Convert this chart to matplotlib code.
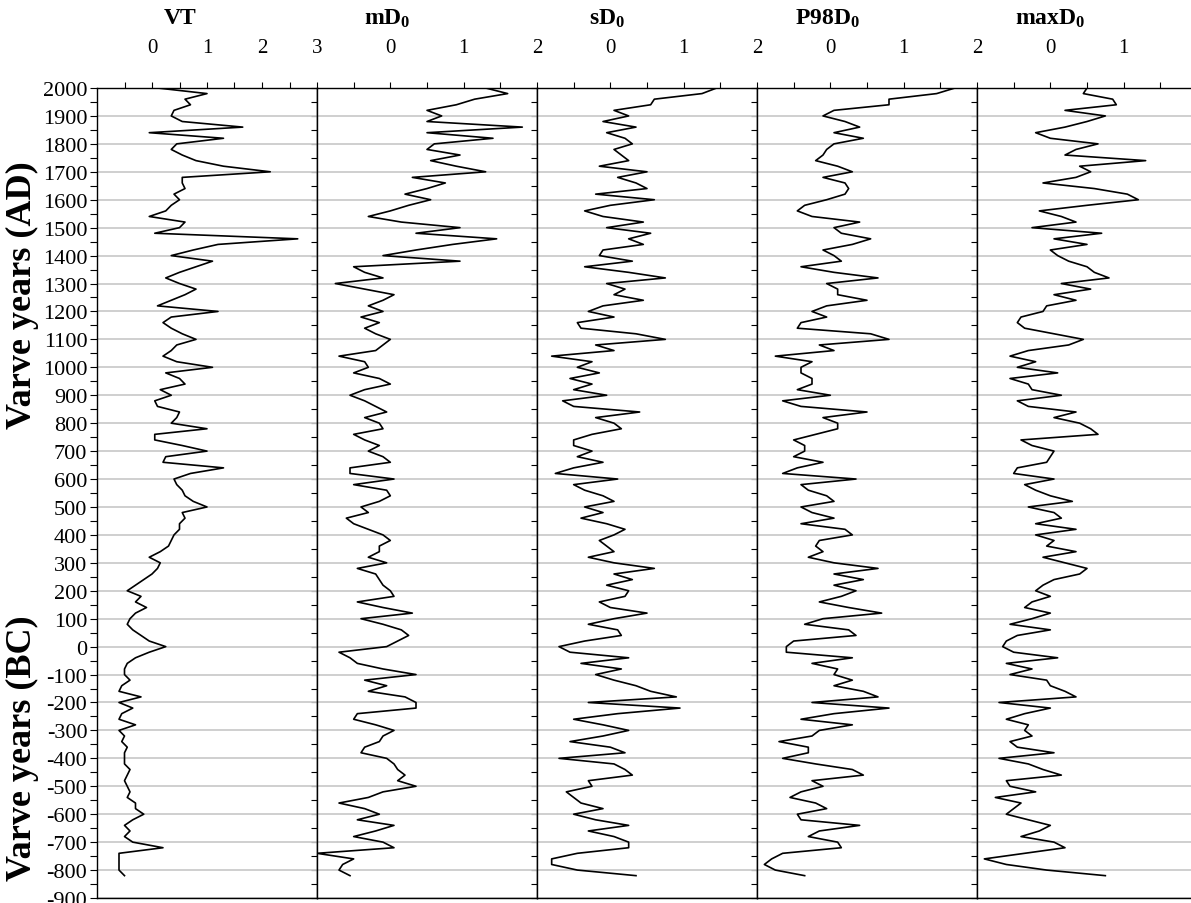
import numpy as np
import matplotlib
matplotlib.use("Agg")
import matplotlib.pyplot as plt
from matplotlib.ticker import MultipleLocator, FixedLocator, FixedFormatter

# --- Fonts (Times-like look of the original figure) ---
plt.rcParams["font.family"] = "Liberation Serif"
plt.rcParams["mathtext.fontset"] = "custom"
plt.rcParams["mathtext.rm"] = "Liberation Serif"
plt.rcParams["mathtext.bf"] = "Liberation Serif:bold"
plt.rcParams["axes.unicode_minus"] = False

# --- Data: values every 20 varve years (2000 AD .. -820) ---
years = np.arange(2000, -821, -20)

vt = [
    0.1, 1.0, 0.6, 0.7, 0.4, 0.35, 0.55, 1.65, -0.05, 1.3,        # 2000..1820
    0.45, 0.35, 0.55, 0.8, 1.3, 2.15, 0.55, 0.55, 0.6, 0.4,        # 1800..1620
    0.5, 0.35, 0.25, -0.05, 0.6, 0.5, 0.05, 2.65, 1.2, 0.75,       # 1600..1420
    0.35, 1.1, 0.8, 0.5, 0.25, 0.5, 0.8, 0.6, 0.35, 0.1,           # 1400..1220
    1.2, 0.35, 0.2, 0.35, 0.55, 0.8, 0.45, 0.35, 0.2, 0.45,        # 1200..1020
    1.1, 0.25, 0.5, 0.6, 0.15, 0.35, 0.05, 0.1, 0.5, 0.45,         # 1000..820
    0.35, 1.0, 0.05, 0.05, 0.55, 1.0, 0.25, 0.2, 1.3, 0.7,         # 800..620
    0.4, 0.45, 0.55, 0.6, 0.75, 1.0, 0.55, 0.6, 0.5, 0.5,          # 600..420
    0.4, 0.35, 0.3, 0.15, -0.05, 0.15, 0.1, 0.0, -0.15, -0.3,      # 400..220
    -0.45, -0.2, -0.3, -0.1, -0.3, -0.4, -0.45, -0.35, -0.2, -0.05,  # 200..20
    0.25, -0.05, -0.3, -0.45, -0.5, -0.5, -0.4, -0.55, -0.6, -0.2,   # 0..-180
    -0.6, -0.35, -0.55, -0.6, -0.3, -0.6, -0.5, -0.55, -0.45, -0.5,  # -200..-380
    -0.5, -0.5, -0.4, -0.45, -0.5, -0.45, -0.4, -0.45, -0.3, -0.3,   # -400..-580
    -0.15, -0.35, -0.5, -0.4, -0.5, -0.35, 0.2, -0.6, -0.6, -0.6,    # -600..-780
    -0.6, -0.5,                                                      # -800..-820
]

md0 = [
    1.3, 1.6, 1.15, 0.9, 0.5, 0.7, 0.5, 1.8, 0.5, 1.4,
    0.6, 0.5, 0.95, 0.55, 0.9, 1.3, 0.3, 0.75, 0.5, 0.2,
    0.55, 0.25, 0.0, -0.3, 0.15, 0.95, 0.35, 1.45, 0.85, 0.35,
    -0.1, 0.95, -0.5, -0.35, -0.1, -0.75, -0.35, 0.05, -0.1, -0.3,
    -0.1, -0.4, -0.15, -0.35, -0.2, 0.0, -0.1, -0.2, -0.7, -0.35,
    -0.3, -0.5, -0.15, 0.0, -0.35, -0.55, -0.35, -0.2, -0.05, -0.35,
    -0.15, -0.1, -0.5, -0.35, -0.15, -0.3, -0.1, 0.0, -0.55, -0.55,
    0.05, -0.5, -0.05, 0.0, -0.15, -0.4, -0.3, -0.6, -0.5, -0.3,
    -0.1, 0.0, -0.15, -0.15, -0.3, -0.05, -0.45, -0.2, -0.15, -0.1,
    0.0, 0.05, -0.45, -0.1, 0.3, -0.4, -0.1, 0.15, 0.25, 0.1,
    -0.05, -0.7, -0.55, -0.45, -0.1, 0.35, -0.35, -0.05, -0.3, 0.2,
    0.35, 0.35, -0.45, -0.5, -0.2, 0.05, -0.1, -0.15, -0.35, -0.4,
    -0.05, 0.05, 0.1, 0.2, 0.1, 0.35, -0.1, -0.3, -0.7, -0.35,
    -0.15, -0.45, 0.05, -0.2, -0.5, -0.1, 0.05, -1.0, -0.5, -0.65,
    -0.7, -0.55,
]

sd0 = [
    1.45, 1.25, 0.6, 0.55, 0.05, 0.25, -0.1, 0.35, -0.05, 0.2,
    0.3, 0.05, 0.15, 0.25, -0.15, 0.5, 0.1, 0.35, 0.5, -0.2,
    0.6, 0.0, -0.35, -0.1, 0.45, -0.05, 0.55, 0.25, 0.45, -0.1,
    -0.15, 0.3, -0.35, 0.25, 0.75, -0.05, 0.2, 0.05, 0.45, -0.1,
    -0.3, 0.05, -0.45, -0.4, 0.35, 0.75, -0.2, 0.05, -0.8, -0.25,
    -0.45, -0.15, -0.55, -0.25, -0.5, -0.05, -0.65, -0.5, 0.4, -0.2,
    0.05, 0.15, -0.25, -0.5, -0.5, -0.25, -0.45, -0.1, -0.5, -0.75,
    0.1, -0.5, -0.35, -0.1, 0.05, -0.35, -0.1, -0.4, -0.05, 0.2,
    0.05, -0.15, -0.05, 0.05, -0.3, 0.05, 0.6, 0.05, 0.3, -0.05,
    0.25, 0.2, -0.15, 0.0, 0.5, 0.05, -0.3, 0.1, 0.15, -0.35,
    -0.7, -0.55, 0.25, -0.4, 0.15, -0.2, 0.05, 0.35, 0.55, 0.9,
    -0.3, 0.95, 0.1, -0.5, -0.1, 0.25, -0.1, -0.55, 0.0, 0.2,
    -0.7, 0.05, 0.2, 0.3, -0.3, -0.25, -0.6, -0.5, -0.4, -0.1,
    -0.5, -0.2, 0.25, -0.3, 0.05, 0.25, 0.25, -0.45, -0.8, -0.8,
    -0.45, 0.35,
]

p98d0 = [
    1.7, 1.45, 0.8, 0.8, 0.05, -0.1, 0.2, 0.4, 0.05, 0.45,
    0.05, -0.05, -0.1, -0.2, 0.1, 0.3, -0.1, 0.2, 0.25, 0.2,
    -0.05, -0.35, -0.45, -0.25, 0.4, 0.05, 0.15, 0.55, 0.3, -0.1,
    0.05, 0.15, -0.4, 0.05, 0.65, -0.05, 0.1, 0.1, 0.5, -0.05,
    -0.25, -0.05, -0.4, -0.45, 0.55, 0.8, -0.15, 0.05, -0.75, -0.25,
    -0.4, -0.4, -0.25, -0.25, -0.45, 0.0, -0.65, -0.4, 0.5, -0.1,
    0.1, 0.1, -0.2, -0.5, -0.35, -0.35, -0.5, -0.1, -0.45, -0.65,
    0.35, -0.4, -0.3, -0.05, 0.05, -0.4, -0.25, 0.05, -0.4, 0.2,
    0.3, -0.15, -0.2, -0.1, -0.3, 0.05, 0.65, 0.05, 0.45, 0.05,
    0.35, 0.15, -0.15, 0.25, 0.7, -0.1, -0.35, 0.25, 0.35, -0.5,
    -0.6, -0.6, 0.3, -0.25, 0.1, 0.05, 0.3, 0.05, 0.45, 0.65,
    -0.25, 0.8, 0.05, -0.4, 0.3, -0.15, -0.25, -0.7, -0.3, -0.3,
    -0.65, -0.2, 0.3, 0.45, -0.25, -0.1, -0.4, -0.55, -0.2, -0.05,
    -0.45, -0.4, 0.4, -0.15, -0.3, 0.1, 0.15, -0.65, -0.8, -0.9,
    -0.75, -0.35,
]

maxd0 = [
    0.5, 0.45, 0.85, 0.9, 0.2, 0.75, 0.5, 0.2, -0.2, 0.0,
    0.65, 0.35, 0.2, 1.3, 0.4, 0.55, 0.35, -0.1, 0.6, 1.05,
    1.2, 0.5, -0.15, 0.15, 0.35, -0.25, 0.7, 0.05, 0.5, 0.0,
    0.1, 0.25, 0.5, 0.6, 0.8, 0.15, 0.55, 0.05, 0.35, -0.05,
    -0.1, -0.4, -0.45, -0.35, 0.05, 0.45, 0.25, -0.3, -0.55, -0.2,
    -0.45, 0.1, -0.55, -0.3, -0.25, 0.15, -0.45, -0.3, 0.35, 0.05,
    0.4, 0.55, 0.65, -0.4, -0.25, 0.05, 0.0, -0.05, -0.45, -0.5,
    0.05, -0.35, -0.2, 0.0, 0.3, -0.3, 0.05, 0.15, -0.2, 0.35,
    -0.2, 0.05, -0.05, 0.35, -0.1, 0.2, 0.5, 0.4, 0.05, -0.1,
    -0.2, 0.0, -0.25, -0.35, 0.0, -0.25, -0.55, 0.0, -0.45, -0.6,
    -0.65, -0.5, 0.1, -0.6, -0.25, -0.55, -0.05, 0.0, 0.2, 0.35,
    -0.7, 0.0, -0.35, -0.6, -0.3, -0.35, -0.25, -0.55, -0.45, 0.05,
    -0.7, -0.3, -0.1, 0.15, -0.6, -0.55, -0.2, -0.75, -0.4, -0.5,
    -0.6, -0.3, 0.0, -0.15, -0.4, 0.05, 0.2, -0.35, -0.9, -0.6,
    -0.05, 0.75,
]

titles = ["VT", r"$\mathbf{mD_0}$", r"$\mathbf{sD_0}$", r"$\mathbf{P98D_0}$", r"$\mathbf{maxD_0}$"]
series = [vt, md0, sd0, p98d0, maxd0]
x_max = [3, 2, 2, 2, 2]
title_x_px = [180, 387, 607, 827, 1050]

# --- Layout (pixel based, figure is 1191 x 904) ---
W, H = 1191, 904
PANEL_X0, PANEL_W = 97, 220
PANEL_TOP, PANEL_BOT = 89, 899

fig = plt.figure(figsize=(W / 100, H / 100), dpi=100)

for i, (title, vals, xm) in enumerate(zip(titles, series, x_max)):
    ax = fig.add_axes([(PANEL_X0 + i * PANEL_W) / W, 1 - PANEL_BOT / H,
                       PANEL_W / W, (PANEL_BOT - PANEL_TOP) / H])
    ax.plot(vals, years, color="black", lw=1.2)
    ax.set_xlim(-1, xm)
    ax.set_ylim(-900, 2000)

    # top x axis
    ticks = list(np.arange(-0.5, xm + 0.01, 0.5))
    labels = [str(int(t)) if t >= 0 and float(t).is_integer() else "" for t in ticks]
    ax.xaxis.set_ticks_position("top")
    ax.xaxis.set_major_locator(FixedLocator(ticks))
    ax.xaxis.set_major_formatter(FixedFormatter(labels))
    ax.tick_params(axis="x", direction="out", length=4, width=0.8, pad=18, labelsize=15)

    # horizontal grid every 100 years
    ax.yaxis.set_major_locator(MultipleLocator(100))
    ax.yaxis.set_minor_locator(MultipleLocator(50))
    ax.grid(axis="y", which="major", color="#cccccc", lw=1.3)
    ax.set_axisbelow(True)

    if i == 0:
        ax.tick_params(axis="y", which="both", direction="out", length=5, width=0.8,
                       labelsize=16, pad=2)
    else:
        ax.tick_params(axis="y", which="both", left=False, labelleft=False)

    # small inward ticks on the right border of every panel
    sec = ax.secondary_yaxis("right")
    sec.yaxis.set_major_locator(MultipleLocator(100))
    sec.yaxis.set_minor_locator(MultipleLocator(50))
    sec.tick_params(axis="y", which="both", direction="in", length=4, width=0.8,
                    labelright=False)

    for s in ax.spines.values():
        s.set_linewidth(1.0)

    fig.text(title_x_px[i] / W, 1 - 19 / H, title,
             ha="center", va="center", fontsize=17, fontweight="bold")

fig.text(22 / W, 1 - 295 / H, "Varve years (AD)", rotation=90, ha="center",
         va="center", fontsize=26, fontweight="bold")
fig.text(22 / W, 1 - 748 / H, "Varve years (BC)", rotation=90, ha="center",
         va="center", fontsize=26, fontweight="bold")

fig.savefig("out.png", dpi=100)
